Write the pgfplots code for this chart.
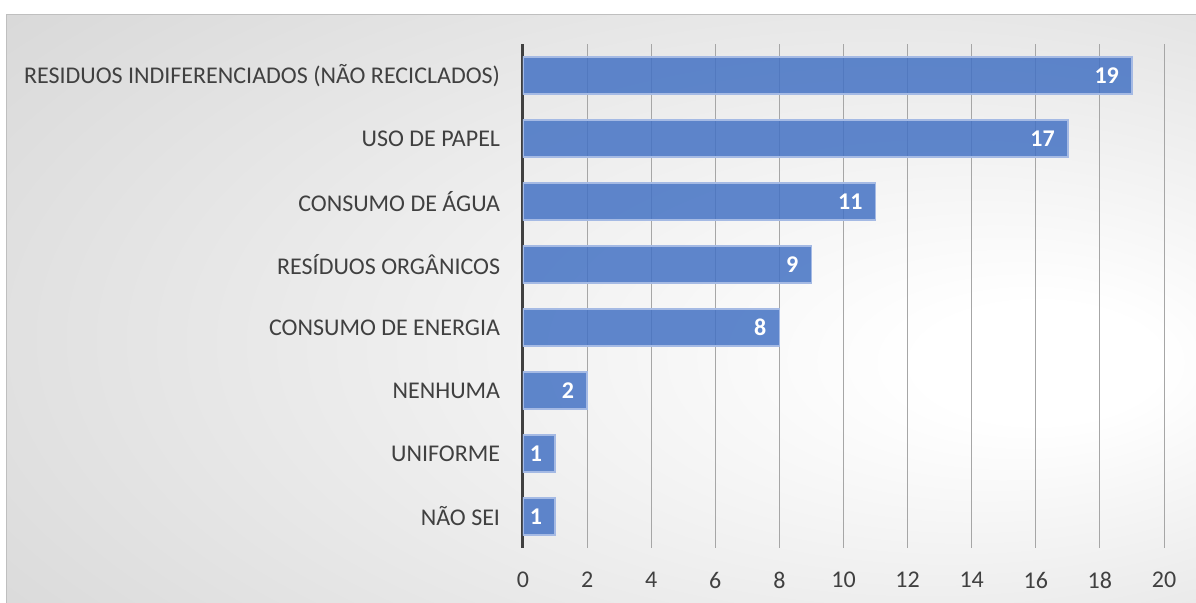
\documentclass[border=0pt]{standalone}
\usepackage{fontspec}
\setmainfont{Carlito}
\usepackage{pgfplots}
\pgfplotsset{compat=1.18}
\definecolor{barblue}{RGB}{68,114,196}
\definecolor{baredge}{RGB}{165,186,228}
\definecolor{txt}{RGB}{64,64,64}
\definecolor{gridc}{RGB}{166,166,166}
\definecolor{bggray}{RGB}{192,192,192}
\pgfdeclareradialshading{bgshade}{\pgfpoint{20bp}{-5bp}}{color(0bp)=(white); color(5bp)=(white); color(66bp)=(bggray)}

\begin{document}
\begin{tikzpicture}
\useasboundingbox (0,0) rectangle (897pt,452.25pt);
\shade[shading=bgshade] (4.5pt,0) rectangle (897pt,441pt);
\draw[color=black!25, line width=0.75pt] (4.5pt,0) -- (4.5pt,441pt) -- (897pt,441pt);
\begin{axis}[
  at={(392.25pt,41.25pt)}, anchor=south west,
  scale only axis, width=480.75pt, height=378pt,
  xbar, bar width=27.75pt,
  xmin=0, xmax=20, ymin=-0.5, ymax=7.5,
  xtick={0,2,...,20},
  ytick={0,...,7},
  yticklabels={NÃO SEI, UNIFORME, NENHUMA, CONSUMO DE ENERGIA, RESÍDUOS ORGÂNICOS, CONSUMO DE ÁGUA, USO DE PAPEL, RESIDUOS INDIFERENCIADOS (NÃO RECICLADOS)},
  axis lines=left,
  x axis line style={draw=none},
  y axis line style={-, draw=txt, line width=2.25pt},
  major tick length=0pt,
  xmajorgrids, grid style={gridc, line width=0.75pt},
  tick label style={font=\fontsize{18}{18}\selectfont, text=txt},
  /pgf/number format/assume math mode=true,
  xticklabel style={anchor=center, yshift=-24pt},
  yticklabel style={anchor=east, inner sep=0pt, xshift=-17pt},
  nodes near coords,
  nodes near coords style={anchor=east, text=white, text opacity=1,
    font=\bfseries\fontsize{18}{18}\selectfont, xshift=-6pt},
]
\addplot[fill=barblue, fill opacity=0.85, draw=baredge, line width=1pt]
  coordinates {(1,0) (1,1) (2,2) (8,3) (9,4) (11,5) (17,6) (19,7)};
\end{axis}
\end{tikzpicture}
\end{document}
